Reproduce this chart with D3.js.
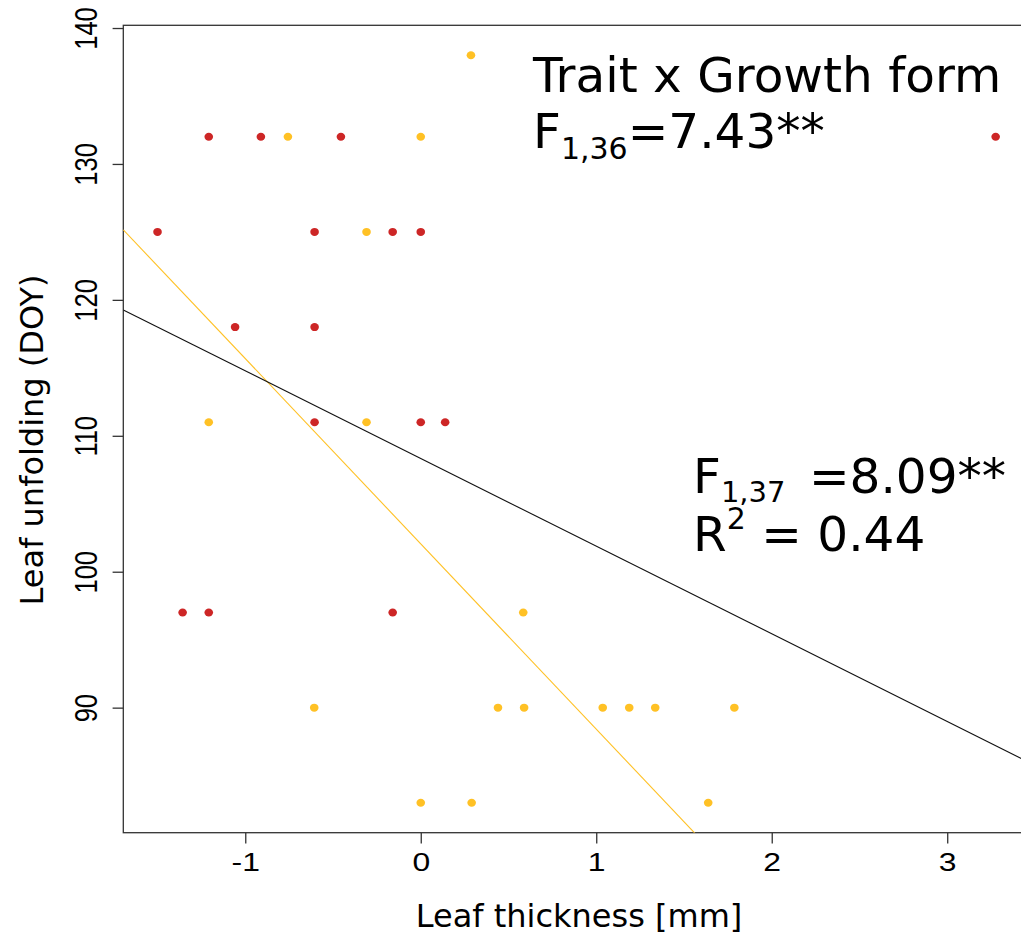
<!DOCTYPE html>
<html>
<head>
<meta charset="utf-8">
<script src="https://cdn.jsdelivr.net/npm/d3@7"></script>
<style>
  body { margin: 0; background: #fff; }
  svg { display: block; }
</style>
</head>
<body>
<svg id="chart" width="1021" height="934"></svg>
<script>
// leaf thickness (x) and leaf unfolding DOY (y), two growth forms
const redX = [-1.208, -0.911, -0.455, 3.276, -1.50, -0.605, -0.160, 0.0, -1.058, -0.605,
              -0.605, 0.0, 0.139, -1.357, -1.208, -0.160];
const redY = [132, 132, 132, 132, 125, 125, 125, 125, 118, 118,
              111, 111, 111, 97, 97, 97];
const orangeX = [0.286, -0.757, 0.0, -0.309, -1.208, -0.309, 0.584,
                 -0.607, 0.440, 0.589, 1.037, 1.188, 1.336, 1.787, 0.0, 0.290, 1.638];
const orangeY = [138, 132, 132, 125, 111, 111, 97,
                 90, 90, 90, 90, 90, 90, 90, 83, 83, 83];

// fitted lines: [intercept, slope]
const fitAll = [108.33, -6.45];
const fitOrange = [102.05, -13.63];

const xTicks = [-1, 0, 1, 2, 3];
const yTicks = [90, 100, 110, 120, 130, 140];

const red = "#cd2626";
const orange = "#ffc125";

const svg = d3.select("#chart");
const m = {left: 123.3, right: 1029, top: 25.3, bottom: 832.7};
const stretch = 1.25; // tick labels are drawn a bit wide

const x = d3.scaleLinear().domain([-1.695, 3.466]).range([m.left, m.right]);
const y = d3.scaleLinear().domain([80.8, 140.2]).range([m.bottom, m.top]);

svg.append("clipPath").attr("id", "plotclip")
  .append("rect")
    .attr("x", m.left).attr("y", m.top)
    .attr("width", m.right - m.left).attr("height", m.bottom - m.top);

// axes
let xAxis = svg.append("g")
    .attr("transform", "translate(0," + m.bottom + ")")
    .call(d3.axisBottom(x).tickValues(xTicks).tickSize(10.7).tickSizeOuter(0).tickPadding(9.5)
      .tickFormat(d => d < 0 ? "-" + Math.abs(d) : d));
xAxis.attr("font-size", 25.5).attr("font-family", "'Liberation Sans', Arial, sans-serif");
xAxis.select(".domain").remove();
xAxis.selectAll("line").attr("stroke", "#333").attr("stroke-width", 1.3);
xAxis.selectAll("text").attr("transform", "scale(" + stretch + ",1)");

let yAxis = svg.append("g")
    .attr("transform", "translate(" + m.left + ",0)")
    .call(d3.axisLeft(y).tickValues(yTicks).tickSize(10.7).tickSizeOuter(0));
yAxis.attr("font-size", 25.5).attr("font-family", "'Liberation Sans', Arial, sans-serif");
yAxis.select(".domain").remove();
yAxis.selectAll("line").attr("stroke", "#333").attr("stroke-width", 1.3);
yAxis.selectAll("text")
    .attr("transform", "scale(" + stretch + ",1) rotate(-90)")
    .attr("x", 0)
    .attr("y", -26.5 / stretch)
    .attr("dy", 0)
    .attr("text-anchor", "middle");

// box
svg.append("rect")
    .attr("x", m.left).attr("y", m.top)
    .attr("width", m.right - m.left).attr("height", m.bottom - m.top)
    .attr("fill", "none")
    .attr("stroke", "#333")
    .attr("stroke-width", 1.3);

// regression lines
const plot = svg.append("g").attr("clip-path", "url(#plotclip)");
function fitLine(fit, color, width) {
  const xs = x.domain();
  plot.append("line")
      .attr("x1", x(xs[0])).attr("y1", y(fit[0] + fit[1] * xs[0]))
      .attr("x2", x(xs[1])).attr("y2", y(fit[0] + fit[1] * xs[1]))
      .attr("stroke", color)
      .attr("stroke-width", width);
}
fitLine(fitOrange, orange, 1.1);
fitLine(fitAll, "#111", 1.1);

// points
function points(xs, ys, color) {
  plot.append("g").selectAll("ellipse")
    .data(d3.range(xs.length))
    .enter()
    .append("ellipse")
      .attr("cx", i => x(xs[i]))
      .attr("cy", i => y(ys[i]))
      .attr("rx", 4.3)
      .attr("ry", 4)
      .attr("fill", color);
}
points(redX, redY, red);
points(orangeX, orangeY, orange);

// axis titles
const font = "'DejaVu Sans', Verdana, sans-serif";
svg.append("text")
    .attr("x", 579).attr("y", 927)
    .attr("text-anchor", "middle")
    .style("font-family", font)
    .style("font-size", "32px")
    .text("Leaf thickness [mm]");

svg.append("text")
    .attr("transform", "translate(43,440) rotate(-90)")
    .attr("text-anchor", "middle")
    .style("font-family", font)
    .style("font-size", "32px")
    .text("Leaf unfolding (DOY)");

// annotations
svg.append("text")
    .attr("x", 533).attr("y", 92)
    .style("font-family", font).style("font-size", "48.5px")
    .text("Trait x Growth form");

function statLine(xp, yp, main, sub, rest, shift, gap, subSize) {
  let t = svg.append("text")
      .attr("x", xp).attr("y", yp)
      .style("font-family", font).style("font-size", "48.5px");
  t.append("tspan").text(main);
  t.append("tspan").attr("dy", shift).style("font-size", subSize + "px").text(sub);
  t.append("tspan").attr("dy", -shift).attr("dx", gap).text(rest);
}
statLine(533, 148, "F", "1,36", "=7.43**", 11, 0, 30);
statLine(693, 493, "F", "1,37", " =8.09**", 9, 8, 29);
statLine(693, 551, "R", "2", " = 0.44", -22, 0, 30);
</script>
</body>
</html>
